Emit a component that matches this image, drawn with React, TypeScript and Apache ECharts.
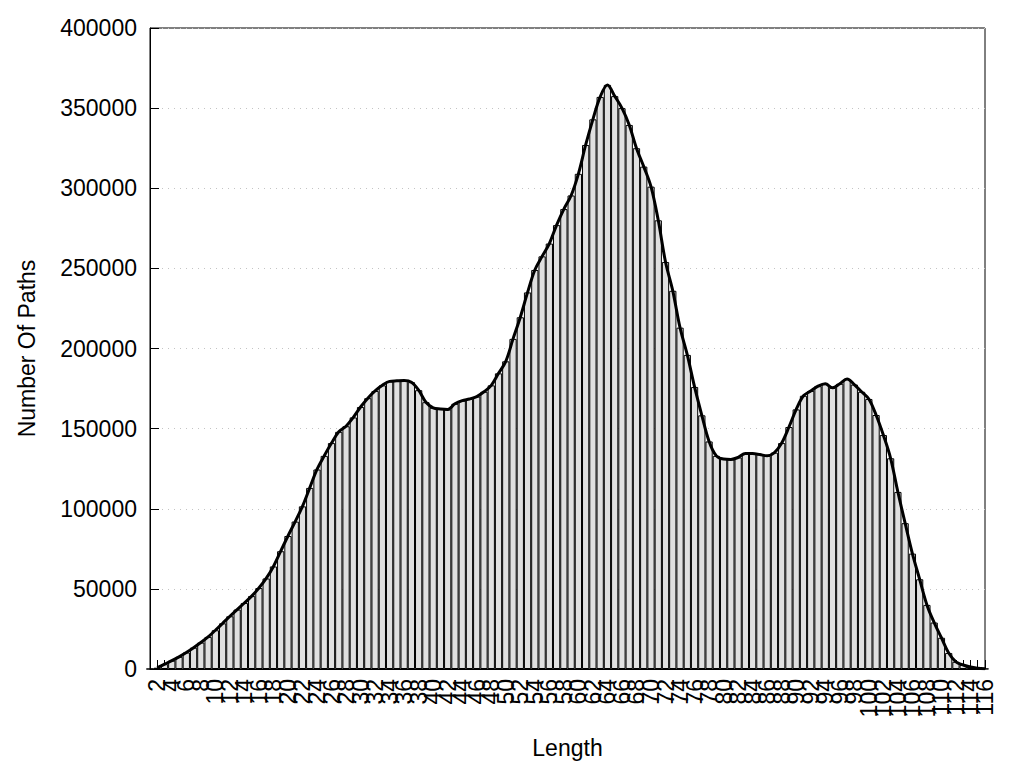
import React, { useEffect, useRef } from "react";
import * as echarts from "echarts";

// Number of paths for each length, lengths 1..116
const pathCounts: number[] = [
  0, 800, 3000, 5200, 7600, 10300, 13300, 16500, 20000, 24200,
  28500, 32900, 37100, 41200, 45500, 50500, 56500, 64000, 73500, 83000,
  92000, 101500, 113000, 124500, 133000, 141000, 148000, 151500, 157000, 163500,
  169000, 173500, 177000, 179500, 179800, 180000, 179000, 174000, 166500, 163000,
  162300, 162000, 165500, 167500, 168500, 170000, 173000, 177000, 184500, 192000,
  206000, 219500, 235000, 249000, 257500, 265500, 277000, 287000, 295500, 309000,
  327000, 343000, 357000, 364500, 357500, 350000, 339500, 325000, 313500, 301000,
  280000, 254000, 236000, 213000, 196000, 176000, 158300, 142000, 133000, 131000,
  130800, 132000, 134500, 134500, 133800, 133000, 135000, 141000, 151000, 162000,
  170500, 173500, 176500, 178000, 175500, 178000, 181000, 177500, 173000, 168500,
  158500, 146000, 131500, 110500, 91000, 72000, 56000, 40000, 29000, 19500,
  10000, 4500, 2500, 1200, 500, 100,
];

const lengths: string[] = pathCounts.map((_, i) => String(i + 1));

const xTitle = "Length";
const yTitle = "Number Of Paths";

const FONT = "Liberation Sans, Arial, sans-serif";
const FS = 23;

export default function App() {
  const ref = useRef<HTMLDivElement>(null);

  useEffect(() => {
    if (!ref.current) return;
    const chart = echarts.init(ref.current, undefined, { renderer: "svg" });
    chart.setOption({
      animation: false,
      backgroundColor: "#ffffff",
      textStyle: { fontFamily: FONT },
      grid: {
        left: 150,
        right: 39,
        top: 28,
        bottom: 99,
        show: true,
        borderColor: "#000",
        borderWidth: 1,
        backgroundColor: "transparent",
      },
      xAxis: {
        type: "category",
        data: lengths,
        boundaryGap: false,
        name: xTitle,
        nameLocation: "middle",
        nameGap: 67,
        nameTextStyle: { fontFamily: FONT, fontSize: FS, color: "#000" },
        axisLine: { show: true, lineStyle: { color: "#000", width: 1 } },
        axisTick: {
          show: true,
          inside: true,
          length: 9,
          interval: 0,
          lineStyle: { color: "#000", width: 1 },
        },
        axisLabel: {
          interval: 0,
          formatter: (value: string) => (Number(value) % 2 === 0 ? value : ""),
          rotate: 90,
          margin: 10,
          hideOverlap: false,
          fontFamily: FONT,
          fontSize: FS,
          lineHeight: 12,
          color: "#000",
        },
        splitLine: { show: false },
      },
      yAxis: {
        type: "value",
        min: 0,
        max: 400000,
        interval: 50000,
        name: yTitle,
        nameLocation: "middle",
        nameGap: 112,
        nameTextStyle: { fontFamily: FONT, fontSize: FS, color: "#000" },
        axisLine: { show: true, lineStyle: { color: "#000", width: 1 } },
        axisTick: {
          show: true,
          inside: true,
          length: 9,
          lineStyle: { color: "#000", width: 1 },
        },
        axisLabel: {
          margin: 13,
          fontFamily: FONT,
          fontSize: FS,
          color: "#000",
          formatter: (v: number) => String(v),
        },
        splitLine: {
          show: true,
          lineStyle: { color: "#c4c4c4", type: [1, 5], width: 1 },
        },
      },
      series: [
        {
          type: "bar",
          data: pathCounts,
          barWidth: "100%",
          clip: true,
          itemStyle: { color: "#e0e0e0", borderColor: "#000", borderWidth: 1 },
          z: 2,
        },
        {
          type: "line",
          data: pathCounts.map((v, i) => (i === 0 ? null : v)),
          smooth: 0.35,
          symbol: "none",
          clip: true,
          lineStyle: { color: "#000", width: 3 },
          z: 3,
        },
      ],
    });
    return () => chart.dispose();
  }, []);

  return (
    <div
      ref={ref}
      style={{ position: "fixed", left: 0, top: 0, width: 1024, height: 768 }}
    />
  );
}
